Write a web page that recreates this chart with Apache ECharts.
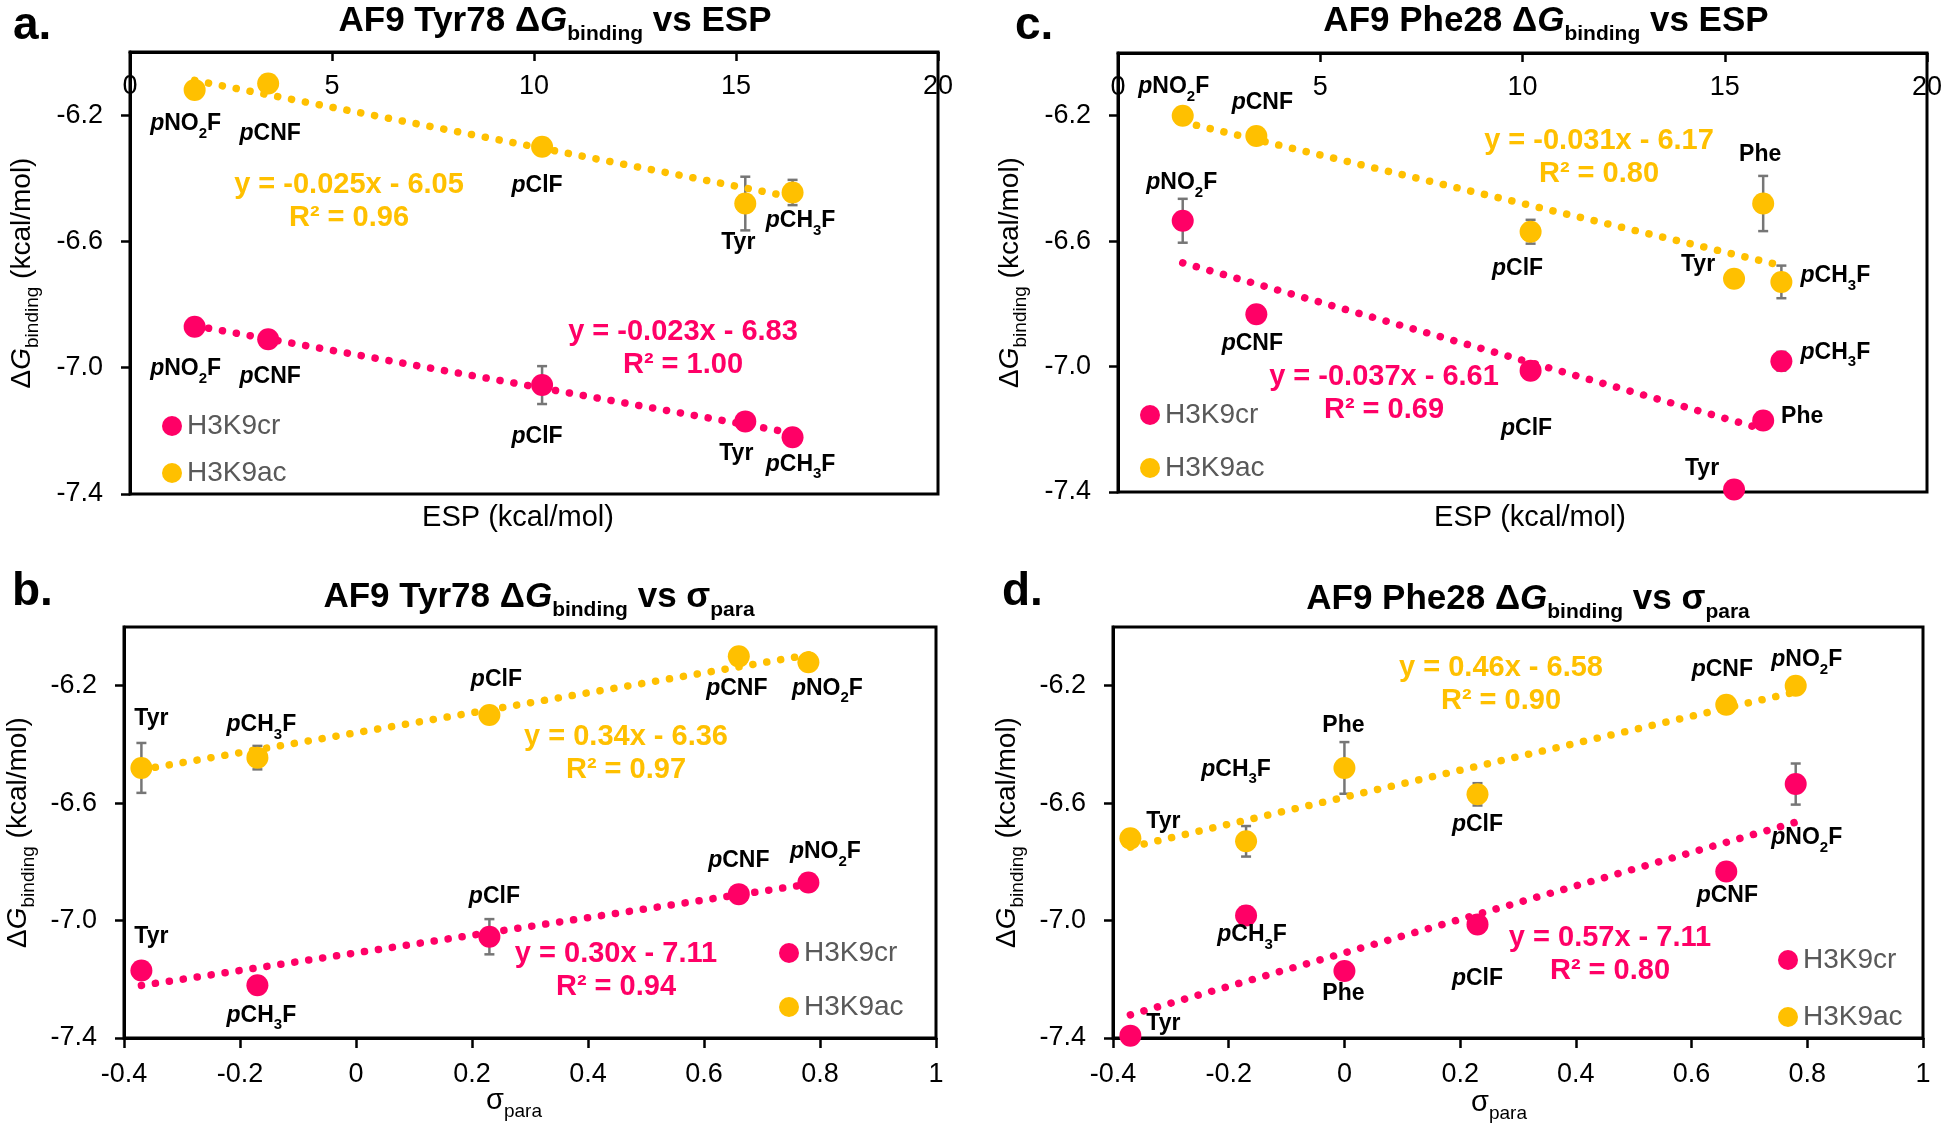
<!DOCTYPE html>
<html><head><meta charset="utf-8">
<script src="https://cdn.jsdelivr.net/npm/echarts@6/dist/echarts.min.js"></script>
<style>html,body{margin:0;padding:0;background:#fff}#c{width:1950px;height:1137px}</style>
</head><body><div id="c"></div>
<script>
// ---------------- data ----------------
const names78 = ['pNO2F', 'pCNF', 'pClF', 'Tyr', 'pCH3F'];
const esp78 = [1.6, 3.42, 10.2, 15.23, 16.4];
const sigma78 = [0.78, 0.66, 0.23, -0.37, -0.17];
const ac78 = [-6.12, -6.10, -6.30, -6.48, -6.445];
const ac78Err = [0, 0, 0.02, 0.085, 0.04];
const cr78 = [-6.87, -6.91, -7.055, -7.17, -7.22];
const cr78Err = [0, 0, 0.06, 0, 0];

const names28 = ['pNO2F', 'pCNF', 'pClF', 'Phe', 'Tyr', 'pCH3F'];
const esp28 = [1.6, 3.42, 10.2, 15.95, 15.23, 16.4];
const sigma28 = [0.78, 0.66, 0.23, 0, -0.37, -0.17];
const ac28 = [-6.20, -6.265, -6.57, -6.48, -6.72, -6.73];
const ac28Err = [0, 0, 0.038, 0.088, 0, 0.052];
const cr28 = [-6.535, -6.833, -7.013, -7.172, -7.392, -6.983];
const cr28Err = [0.07, 0, 0, 0, 0, 0.03];

// trendline end points
const trendA_ac = [[1.6, -6.09], [16.4, -6.46]];
const trendA_cr = [[1.6, -6.867], [16.4, -7.207]];
const trendB_ac = [[-0.37, -6.486], [0.78, -6.095]];
const trendB_cr = [[-0.37, -7.221], [0.78, -6.876]];
const trendC_ac = [[1.6, -6.22], [16.4, -6.678]];
const trendC_cr = [[1.6, -6.669], [15.95, -7.20]];
const trendD_ac = [[-0.37, -6.75], [0.78, -6.221]];
const trendD_cr = [[-0.37, -7.321], [0.78, -6.665]];

// equation texts
const eqA_ac = ['y = -0.025x - 6.05', 'R² = 0.96'];
const eqA_cr = ['y = -0.023x - 6.83', 'R² = 1.00'];
const eqB_ac = ['y = 0.34x - 6.36', 'R² = 0.97'];
const eqB_cr = ['y = 0.30x - 7.11', 'R² = 0.94'];
const eqC_ac = ['y = -0.031x - 6.17', 'R² = 0.80'];
const eqC_cr = ['y = -0.037x - 6.61', 'R² = 0.69'];
const eqD_ac = ['y = 0.46x - 6.58', 'R² = 0.90'];
const eqD_cr = ['y = 0.57x - 7.11', 'R² = 0.80'];

// ticks
const espTicks = [0, 5, 10, 15, 20];
const sigmaTicks = [-0.4, -0.2, 0, 0.2, 0.4, 0.6, 0.8, 1];
const dgTicks = [-7.4, -7.0, -6.6, -6.2];
const seriesNames = ['H3K9cr', 'H3K9ac'];

// ---------------- styling helpers ----------------
const FONT = '"Liberation Sans", Arial, Helvetica, sans-serif';
const YELLOW = '#FFC000', PINK = '#FF0066', ERR = '#767676', LEG = '#595959';

function richSet(S, color, weight, subS) {
  subS = subS || Math.round(S * 0.66);
  const base = { fontFamily: FONT, fontWeight: weight, color: color, fill: color };
  const LH = S + 6;
  return {
    n: Object.assign({}, base, { fontSize: S, lineHeight: LH, verticalAlign: 'top' }),
    i: Object.assign({}, base, { fontSize: S, lineHeight: LH, verticalAlign: 'top', fontStyle: 'italic' }),
    s: Object.assign({}, base, { fontSize: subS, lineHeight: Math.round(subS * 0.9), verticalAlign: 'bottom' })
  };
}
const FMT = {
  pNO2F: '{i|p}{n|NO}{s|2}{n|F}', pCNF: '{i|p}{n|CNF}', pClF: '{i|p}{n|ClF}',
  pCH3F: '{i|p}{n|CH}{s|3}{n|F}', Tyr: '{n|Tyr}', Phe: '{n|Phe}'
};
const labelRich = richSet(23, '#000', 'bold', 15);

// label offsets (px, relative to point centre)
const offA_ac = [[-9, 37], [2, 53], [-5, 42], [-7, 42], [8, 31]];
const offA_cr = [[-9, 45], [2, 40], [-5, 55], [-9, 35], [8, 30]];
const offB_ac = [[19, 29], [-2, 35], [7, -32], [10, -46], [4, -30]];
const offB_cr = [[17, -28], [0, -30], [5, -37], [10, -31], [4, 33]];
const offC_ac = [[-9, -26], [6, -30], [-13, 40], [-3, -46], [-36, -11], [54, -3]];
const offC_cr = [[-1, -35], [-4, 32], [-4, 61], [39, -1], [-32, -18], [54, -6]];
const offD_ac = [[11, -23], [-4, -32], [0, 33], [-1, -39], [33, -14], [-10, -69]];
const offD_cr = [[11, 57], [1, 27], [0, 57], [-1, 26], [33, -9], [6, 22]];

function scatter(gi, name, color, xs, ys, names, offs) {
  return {
    type: 'scatter', name: name, xAxisIndex: gi, yAxisIndex: gi, symbol: 'circle', symbolSize: 22,
    z: 5, clip: false, silent: true, itemStyle: { color: color, opacity: 1 },
    label: { show: true, position: 'inside', color: '#000', textBorderWidth: 0,
      formatter: function (p) { return FMT[p.name]; }, rich: labelRich },
    emphasis: { disabled: true },
    data: xs.map(function (x, i) { return { name: names[i], value: [x, ys[i]], label: { offset: offs[i] } }; })
  };
}
function trend(gi, pts, color) {
  return {
    type: 'line', xAxisIndex: gi, yAxisIndex: gi, data: pts, showSymbol: false, symbol: 'none', z: 3,
    silent: true, lineStyle: { color: color, width: 7.5, type: [0.1, 14], cap: 'round' },
    emphasis: { disabled: true }
  };
}
function errs(gi, xs, ys, es) {
  const data = [];
  xs.forEach(function (x, i) { if (es[i] > 0) data.push([x, ys[i], es[i]]); });
  return {
    type: 'custom', xAxisIndex: gi, yAxisIndex: gi, z: 2, silent: true, data: data,
    encode: { x: 0, y: 1 },
    renderItem: function (params, api) {
      const x = api.value(0), y = api.value(1), e = api.value(2);
      const a = api.coord([x, y + e]), b = api.coord([x, y - e]);
      const w = 5, st = { stroke: ERR, lineWidth: 2.5 };
      return { type: 'group', children: [
        { type: 'line', shape: { x1: a[0], y1: a[1], x2: b[0], y2: b[1] }, style: st },
        { type: 'line', shape: { x1: a[0] - w, y1: a[1], x2: a[0] + w, y2: a[1] }, style: st },
        { type: 'line', shape: { x1: b[0] - w, y1: b[1], x2: b[0] + w, y2: b[1] }, style: st }
      ] };
    }
  };
}

const grids = [
  { left: 130, top: 52, width: 808, height: 442 },   // a
  { left: 124, top: 627, width: 812, height: 411 },  // b
  { left: 1118, top: 53, width: 809, height: 439 },  // c
  { left: 1113, top: 627, width: 810, height: 411 }  // d
].map(function (g) { return Object.assign({ show: true, borderColor: '#000', borderWidth: 3, backgroundColor: '#fff' }, g); });

const axLine = { show: true, onZero: false, lineStyle: { color: '#000', width: 3 } };
const tickFont = { fontFamily: FONT, fontSize: 27, color: '#000' };

function espAxis(gi) {
  return { gridIndex: gi, type: 'value', position: 'top', min: 0, max: 20, interval: 5,
    axisLine: axLine, splitLine: { show: false },
    axisTick: { show: true, inside: true, length: 9, lineStyle: { color: '#000', width: 2.5 }, customValues: espTicks },
    axisLabel: Object.assign({ inside: true, margin: 21, showMinLabel: true, showMaxLabel: true, customValues: espTicks,
      formatter: function (v) { return String(v); } }, tickFont) };
}
function sigmaAxis(gi) {
  return { gridIndex: gi, type: 'value', position: 'bottom', min: -0.4, max: 1, interval: 0.2,
    axisLine: axLine, splitLine: { show: false },
    axisTick: { show: true, length: 10, lineStyle: { color: '#000', width: 2.5 }, customValues: sigmaTicks },
    axisLabel: Object.assign({ margin: 23, showMinLabel: true, showMaxLabel: true, customValues: sigmaTicks,
      formatter: function (v) { return String(+(+v).toFixed(1)); } }, tickFont) };
}
const yNameRich = richSet(28, '#000', 'normal', 19);
function dgAxis(gi, gap) {
  return { gridIndex: gi, type: 'value', position: 'left', min: -7.4, max: -6.0,
    axisLine: axLine, splitLine: { show: false },
    axisTick: { show: true, length: 9, lineStyle: { color: '#000', width: 2.5 }, customValues: dgTicks },
    axisLabel: Object.assign({ margin: 27, customValues: dgTicks,
      formatter: function (v) { return (+v).toFixed(1); } }, tickFont),
    name: '{n|Δ}{i|G}{s|binding}{n| (kcal/mol)}', nameLocation: 'middle', nameRotate: 90, nameGap: gap,
    nameTextStyle: { rich: yNameRich } };
}

function legend(left, topCenter, spacing) {
  return { data: seriesNames, orient: 'vertical', left: left - 10, top: topCenter - 14, padding: 0,
    itemGap: spacing - 28, itemWidth: 20, itemHeight: 20, icon: 'circle', selectedMode: false,
    textStyle: { fontFamily: FONT, fontSize: 28, lineHeight: 28, color: LEG } };
}

// graphic texts
function gRich(x, y, text, rich, align) {
  return { type: 'text', x: x, y: y, silent: true, z: 10,
    style: { text: text, rich: rich, align: align || 'center', verticalAlign: 'middle',
      textAlign: align || 'center', textVerticalAlign: 'middle' } };
}
const titleRich = richSet(35, '#000', 'bold', 21);
const eqRichY = richSet(29, YELLOW, 'bold');
const eqRichP = richSet(29, PINK, 'bold');
const letterRich = richSet(46, '#000', 'bold');
const axRich = richSet(29, '#000', 'normal', 19);
function eq(x, y, lines, rich) {
  return [gRich(x, y, '{n|' + lines[0] + '}', rich), gRich(x, y + 33, '{n|' + lines[1] + '}', rich)];
}

const graphics = [
  gRich(13, 29, '{n|a.}', letterRich, 'left'),
  gRich(12, 595, '{n|b.}', letterRich, 'left'),
  gRich(1015, 29, '{n|c.}', letterRich, 'left'),
  gRich(1002, 595, '{n|d.}', letterRich, 'left'),
  gRich(555, 24, '{n|AF9 Tyr78 Δ}{i|G}{s|binding}{n| vs ESP}', titleRich),
  gRich(539, 600, '{n|AF9 Tyr78 Δ}{i|G}{s|binding}{n| vs σ}{s|para}', titleRich),
  gRich(1546, 24, '{n|AF9 Phe28 Δ}{i|G}{s|binding}{n| vs ESP}', titleRich),
  gRich(1528, 602, '{n|AF9 Phe28 Δ}{i|G}{s|binding}{n| vs σ}{s|para}', titleRich),
  gRich(518, 521, '{n|ESP (kcal/mol)}', axRich),
  gRich(1530, 521, '{n|ESP (kcal/mol)}', axRich),
  gRich(514, 1104, '{n|σ}{s|para}', axRich),
  gRich(1499, 1106, '{n|σ}{s|para}', axRich)
].concat(
  eq(349, 188, eqA_ac, eqRichY), eq(683, 335, eqA_cr, eqRichP),
  eq(626, 740, eqB_ac, eqRichY), eq(616, 957, eqB_cr, eqRichP),
  eq(1599, 144, eqC_ac, eqRichY), eq(1384, 380, eqC_cr, eqRichP),
  eq(1501, 671, eqD_ac, eqRichY), eq(1610, 941, eqD_cr, eqRichP)
);

const series = [
  // a
  errs(0, esp78, ac78, ac78Err), errs(0, esp78, cr78, cr78Err),
  trend(0, trendA_ac, YELLOW), trend(0, trendA_cr, PINK),
  scatter(0, 'H3K9cr', PINK, esp78, cr78, names78, offA_cr),
  scatter(0, 'H3K9ac', YELLOW, esp78, ac78, names78, offA_ac),
  // b
  errs(1, sigma78, ac78, ac78Err), errs(1, sigma78, cr78, cr78Err),
  trend(1, trendB_ac, YELLOW), trend(1, trendB_cr, PINK),
  scatter(1, 'H3K9cr', PINK, sigma78, cr78, names78, offB_cr),
  scatter(1, 'H3K9ac', YELLOW, sigma78, ac78, names78, offB_ac),
  // c
  errs(2, esp28, ac28, ac28Err), errs(2, esp28, cr28, cr28Err),
  trend(2, trendC_ac, YELLOW), trend(2, trendC_cr, PINK),
  scatter(2, 'H3K9cr', PINK, esp28, cr28, names28, offC_cr),
  scatter(2, 'H3K9ac', YELLOW, esp28, ac28, names28, offC_ac),
  // d
  errs(3, sigma28, ac28, ac28Err), errs(3, sigma28, cr28, cr28Err),
  trend(3, trendD_ac, YELLOW), trend(3, trendD_cr, PINK),
  scatter(3, 'H3K9cr', PINK, sigma28, cr28, names28, offD_cr),
  scatter(3, 'H3K9ac', YELLOW, sigma28, ac28, names28, offD_ac)
];

const chart = echarts.init(document.getElementById('c'), null, { renderer: 'canvas' });
chart.setOption({
  backgroundColor: '#fff',
  animation: false,
  grid: grids,
  xAxis: [espAxis(0), sigmaAxis(1), espAxis(2), sigmaAxis(3)],
  yAxis: [dgAxis(0, 88), dgAxis(1, 86), dgAxis(2, 88), dgAxis(3, 86)],
  legend: [legend(172, 426, 47), legend(789, 953, 54), legend(1150, 415, 53), legend(1788, 960, 57)],
  graphic: graphics,
  series: series
});
</script>
</body></html>
